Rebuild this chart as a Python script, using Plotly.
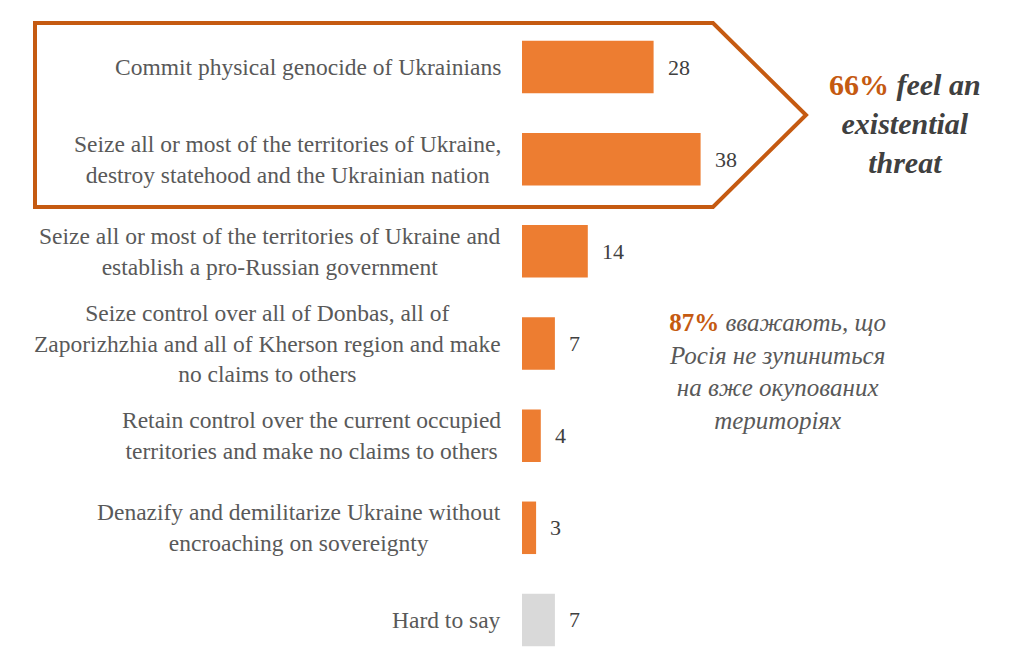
import plotly.graph_objects as go

W, H = 1024, 670

categories = [
    "Commit physical genocide of Ukrainians",
    "Seize all or most of the territories of Ukraine,<br>destroy statehood and the Ukrainian nation",
    "Seize all or most of the territories of Ukraine and<br>establish a pro-Russian government",
    "Seize control over all of Donbas, all of<br>Zaporizhzhia and all of Kherson region and make<br>no claims to others",
    "Retain control over the current occupied<br>territories and make no claims to others",
    "Denazify and demilitarize Ukraine without<br>encroaching on sovereignty",
    "Hard to say",
]
values = [28, 38, 14, 7, 4, 3, 7]
bar_colors = ["#ED7D31"] * 6 + ["#D9D9D9"]

ORANGE_DARK = "#C55A11"
GREY = "#595959"
FONT = "Liberation Serif"


def px_x(x):
    return x / W


def px_y(y):
    return 1 - y / H


fig = go.Figure(go.Bar(
    x=values,
    y=list(range(len(values))),
    orientation="h",
    marker=dict(color=bar_colors, line=dict(width=0)),
    width=0.57,
    hoverinfo="skip",
))

# category labels, centred block right-aligned at the axis
for i, cat in enumerate(categories):
    fig.add_annotation(
        x=px_x(503), xref="paper", y=i, yref="y",
        text=cat, showarrow=False, xanchor="right", yanchor="middle",
        align="center", font=dict(family=FONT, size=23.5, color=GREY),
    )

# value labels
for i, v in enumerate(values):
    fig.add_annotation(
        x=v, xref="x", y=i, yref="y", text=str(v), showarrow=False,
        xanchor="left", xshift=12, font=dict(family=FONT, size=22, color="#404040"),
    )

# arrow-shaped outline round the first two rows
pts = [(35, 23), (713, 23), (806, 115), (713, 207), (35, 207)]
path = "M " + " L ".join(f"{px_x(x)},{px_y(y)}" for x, y in pts) + " Z"
fig.add_shape(type="path", path=path, xref="paper", yref="paper",
              line=dict(color=ORANGE_DARK, width=4))

fig.add_annotation(
    x=px_x(905), y=px_y(123), xref="paper", yref="paper", showarrow=False,
    xanchor="center", yanchor="middle",
    text=(f"<b><span style='color:{ORANGE_DARK}'>66%</span></b> "
          "<b><i>feel an</i></b><br><b><i>existential</i></b><br><b><i>threat</i></b>"),
    align="center", font=dict(family=FONT, size=30, color="#404040"),
)

fig.add_annotation(
    x=px_x(777), y=px_y(371), xref="paper", yref="paper", showarrow=False,
    xanchor="center", yanchor="middle",
    text=(f"<b><span style='color:{ORANGE_DARK}'>87%</span></b> "
          "<i>вважають, що</i><br><i>Росія не зупиниться</i><br>"
          "<i>на вже окупованих</i><br><i>територіях</i>"),
    align="center", font=dict(family=FONT, size=25, color=GREY),
)

xmax = (W - 522) / 4.7
fig.update_xaxes(range=[0, xmax], domain=[px_x(522), 1], visible=False)
fig.update_yaxes(range=[6.5, -0.5], domain=[px_y(666), px_y(21)], visible=False)

fig.update_layout(
    width=W, height=H,
    margin=dict(l=0, r=0, t=0, b=0),
    paper_bgcolor="white", plot_bgcolor="white",
    showlegend=False,
)

fig.write_html("out.html", config={"displayModeBar": False},
               post_script="document.body.style.margin='0px';")
